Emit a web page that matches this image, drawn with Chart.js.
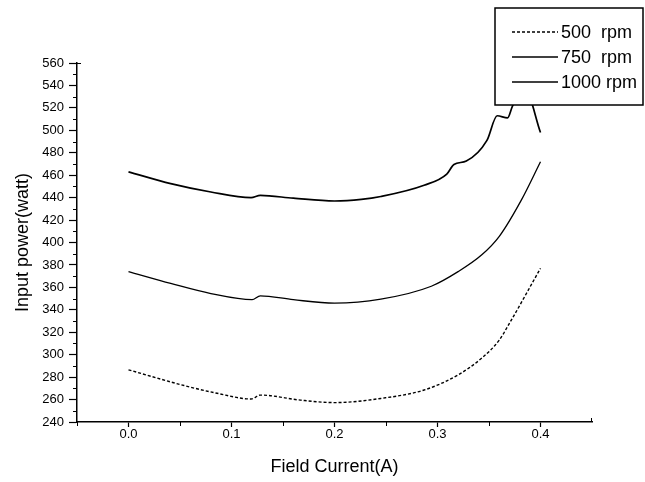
<!DOCTYPE html>
<html>
<head>
<meta charset="utf-8">
<script src="https://cdn.jsdelivr.net/npm/chart.js@4.4.1/dist/chart.umd.min.js"></script>
<style>
  html, body { margin: 0; padding: 0; background: #fff; }
  #wrap { position: relative; width: 645px; height: 482px; }
</style>
</head>
<body>
<div id="wrap"><canvas id="chart" width="645" height="482"></canvas></div>
<script>
// --- Data: input power (watt) vs field current (A) at three speeds ---
const seriesLabels = ["500  rpm", "750  rpm", "1000 rpm"];

const current500 = [0, 0.054, 0.086, 0.119, 0.128, 0.167, 0.2, 0.245, 0.287, 0.32, 0.343, 0.36, 0.368, 0.4];
const power500   = [286.5, 272.5, 265.6, 260.5, 264, 259.5, 257.3, 261, 268.5, 282, 297, 313, 325, 377];

const current750 = [0, 0.041, 0.08, 0.12, 0.128, 0.16, 0.2, 0.245, 0.294, 0.32, 0.343, 0.36, 0.3815, 0.4];
const power750   = [374, 363.5, 354.5, 349, 352.5, 349, 346, 349.5, 361, 374, 389, 405.5, 438, 472];

const current1000 = [0, 0.041, 0.08, 0.119, 0.128, 0.16, 0.2, 0.226, 0.245, 0.287, 0.309, 0.316, 0.328, 0.348, 0.358, 0.368, 0.373, 0.385, 0.4];
const power1000   = [463, 452.5, 445, 440, 442, 439.5, 437, 438.4, 441, 451, 461, 469.6, 472.6, 491, 513, 511, 522, 536, 498];

// axis ticks
const xTickValues = [0, 0.1, 0.2, 0.3, 0.4];
const xMinorValues = [-0.05, 0.05, 0.15, 0.25, 0.35];
const yTickValues = [240, 260, 280, 300, 320, 340, 360, 380, 400, 420, 440, 460, 480, 500, 520, 540, 560];
const yMinorValues = [250, 270, 290, 310, 330, 350, 370, 390, 410, 430, 450, 470, 490, 510, 530, 550];

function toPoints(xs, ys) {
  return xs.map((x, i) => ({ x: x, y: ys[i] }));
}

const FONT = "'Liberation Sans', Arial, sans-serif";

// short outward minor ticks on both axes
const minorTicks = {
  id: "minorTicks",
  afterDraw(chart) {
    const { ctx, scales: { x, y } } = chart;
    ctx.save();
    ctx.strokeStyle = "#000";
    ctx.lineWidth = 1;
    ctx.beginPath();
    xMinorValues.forEach(v => {
      const px = Math.round(x.getPixelForValue(v)) + 0.5;
      ctx.moveTo(px, y.bottom);
      ctx.lineTo(px, y.bottom + 4);
    });
    yMinorValues.forEach(v => {
      const py = Math.round(y.getPixelForValue(v)) + 0.5;
      ctx.moveTo(x.left, py);
      ctx.lineTo(x.left - 4, py);
    });
    // end caps
    ctx.moveTo(x.right - 0.5, y.bottom);
    ctx.lineTo(x.right - 0.5, y.bottom - 4);
    ctx.moveTo(x.left, y.top + 0.5);
    ctx.lineTo(x.left + 4, y.top + 0.5);
    ctx.stroke();
    ctx.restore();
  }
};

// boxed legend in the top right corner, drawn over the curves
const boxLegend = {
  id: "boxLegend",
  afterDraw(chart) {
    const ctx = chart.ctx;
    const left = 495, top = 8, right = 643, bottom = 105;
    ctx.save();
    ctx.fillStyle = "#fff";
    ctx.fillRect(left, top, right - left, bottom - top);
    ctx.strokeStyle = "#000";
    ctx.lineWidth = 1.5;
    ctx.strokeRect(left, top, right - left, bottom - top);
    const rows = [32, 57, 82];
    chart.data.datasets.forEach((ds, i) => {
      const yy = rows[i];
      ctx.beginPath();
      ctx.setLineDash(ds.borderDash || []);
      ctx.lineWidth = ds.borderWidth;
      ctx.moveTo(512, yy);
      ctx.lineTo(558, yy);
      ctx.stroke();
      ctx.setLineDash([]);
      ctx.fillStyle = "#000";
      ctx.font = "18px " + FONT;
      ctx.textBaseline = "middle";
      ctx.fillText(ds.label, 561, yy + 1);
    });
    ctx.restore();
  }
};

const lineStyle = {
  showLine: true,
  borderColor: "#000",
  pointRadius: 0,
  cubicInterpolationMode: "monotone"
};

new Chart(document.getElementById("chart"), {
  type: "scatter",
  data: {
    datasets: [
      Object.assign({ label: seriesLabels[0], data: toPoints(current500, power500), borderWidth: 1.4, borderDash: [3, 2] }, lineStyle),
      Object.assign({ label: seriesLabels[1], data: toPoints(current750, power750), borderWidth: 1.3 }, lineStyle),
      Object.assign({ label: seriesLabels[2], data: toPoints(current1000, power1000), borderWidth: 1.7 }, lineStyle)
    ]
  },
  options: {
    responsive: false,
    animation: false,
    layout: { padding: { left: 0, top: 63, right: 53, bottom: 0 } },
    plugins: {
      legend: { display: false },
      tooltip: { enabled: false }
    },
    scales: {
      x: {
        type: "linear",
        min: -0.05,
        max: 0.45,
        afterBuildTicks: s => { s.ticks = xTickValues.map(v => ({ value: v })); },
        afterFit: s => { s.height = 60; },
        ticks: {
          color: "#000",
          font: { family: FONT, size: 13 },
          padding: 0,
          maxRotation: 0,
          callback: v => Number(v).toFixed(1)
        },
        grid: { drawOnChartArea: false, tickLength: 5, tickColor: "#000", tickWidth: 1.2 },
        border: { color: "#000", width: 1.5 },
        title: {
          display: true,
          text: "Field Current(A)",
          color: "#000",
          font: { family: FONT, size: 18 },
          padding: { top: 0, bottom: 4 }
        }
      },
      y: {
        min: 240,
        max: 560,
        afterBuildTicks: s => { s.ticks = yTickValues.map(v => ({ value: v })); },
        afterFit: s => { s.width = 77; },
        ticks: {
          color: "#000",
          font: { family: FONT, size: 13 },
          padding: 5
        },
        grid: { drawOnChartArea: false, tickLength: 8, tickColor: "#000", tickWidth: 1.2 },
        border: { color: "#000", width: 1.5 },
        title: {
          display: true,
          text: "Input power(watt)",
          color: "#000",
          font: { family: FONT, size: 18 },
          padding: { top: 12, bottom: 0 }
        }
      }
    }
  },
  plugins: [minorTicks, boxLegend]
});
</script>
</body>
</html>
